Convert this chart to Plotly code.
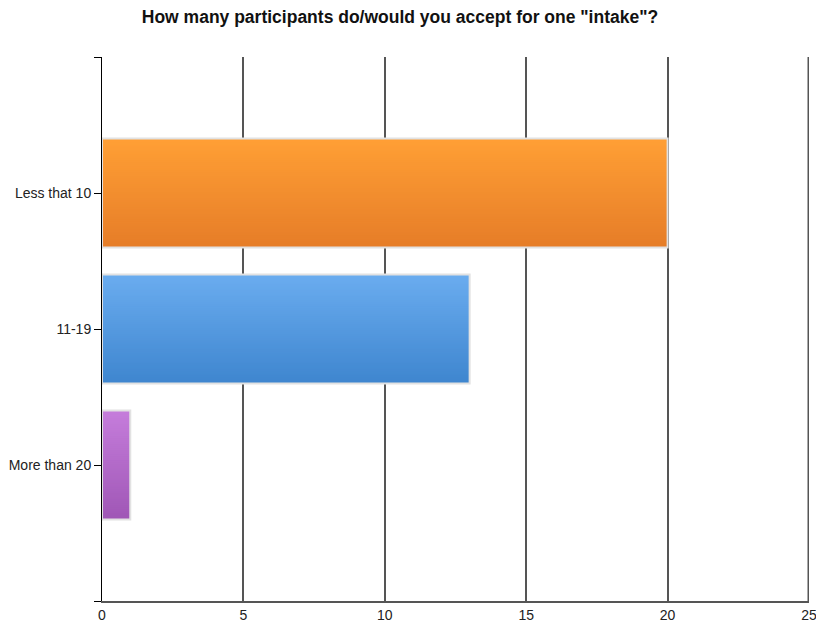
import plotly.graph_objects as go

# Survey answers
categories = ["Less that 10", "11-19", "More than 20"]
counts = [20, 13, 1]

# Vertical gradient per bar: (top colour, bottom colour)
top_colors = ["#ff9f35", "#6aacef", "#c57ddb"]
bottom_colors = ["#e67d28", "#3f86cf", "#a057b6"]

x_ticks = [0, 5, 10, 15, 20, 25]


def hex_to_rgb(h):
    h = h.lstrip("#")
    return tuple(int(h[i:i + 2], 16) for i in (0, 2, 4))


def mix(c1, c2, t):
    a, b = hex_to_rgb(c1), hex_to_rgb(c2)
    return "rgb({},{},{})".format(*[round(a[k] + (b[k] - a[k]) * t) for k in range(3)])


positions = list(range(len(categories)))
bar_w = 0.8
n_slices = 55
slice_w = bar_w / n_slices

fig = go.Figure()

# Each bar is built from thin horizontal slices to give a top-to-bottom gradient
for i in range(n_slices):
    t = i / (n_slices - 1)
    extra = slice_w * 0.6 if i < n_slices - 1 else 0
    fig.add_trace(go.Bar(
        x=counts,
        y=positions,
        orientation="h",
        width=slice_w + extra,
        offset=-bar_w / 2 + i * slice_w,
        marker=dict(color=[mix(top_colors[k], bottom_colors[k], t) for k in range(len(counts))],
                    line=dict(width=0)),
        hoverinfo="skip",
        showlegend=False,
    ))

# Light outline around each bar
fig.add_trace(go.Bar(
    x=counts,
    y=positions,
    orientation="h",
    width=bar_w,
    marker=dict(color="rgba(0,0,0,0)", line=dict(color="#e2e2e2", width=2)),
    showlegend=False,
))

# Gridline at the last x tick, which sits on the right edge of the plot area
# (half of the stroke is clipped, so draw it twice as wide)
fig.add_shape(type="line", xref="x", yref="paper",
              x0=x_ticks[-1], x1=x_ticks[-1], y0=0, y1=1,
              line=dict(color="#555555", width=3), layer="below")

fig.update_layout(
    barmode="overlay",
    width=816,
    height=628,
    margin=dict(l=102, r=7, t=57, b=27),
    paper_bgcolor="white",
    plot_bgcolor="white",
    font=dict(family="Liberation Sans, Arial, sans-serif", size=13, color="#222222"),
    title=dict(
        text="<b>How many participants do/would you accept for one \"intake\"?</b>",
        x=400 / 816,
        xanchor="center",
        y=1 - 17 / 628,
        yanchor="middle",
        font=dict(size=17.5, color="#111111"),
    ),
    xaxis=dict(
        range=[0, 25],
        tickvals=x_ticks,
        showgrid=True,
        gridcolor="#555555",
        gridwidth=1.5,
        zeroline=False,
        showline=True,
        linecolor="#555555",
        linewidth=1.5,
        ticks="",
        tickfont=dict(size=14),
        ticklabeloverflow="allow",
        automargin=False,
        fixedrange=True,
    ),
    yaxis=dict(
        range=[len(categories), -1],
        tickvals=[-1] + positions + [len(categories)],
        ticktext=[""] + categories + [""],
        showgrid=False,
        zeroline=False,
        showline=True,
        linecolor="#000000",
        linewidth=1,
        ticks="outside",
        ticklen=7,
        tickcolor="#000000",
        tickwidth=1,
        tickfont=dict(size=14),
        automargin=False,
        fixedrange=True,
    ),
)

fig.write_html("out.html")
